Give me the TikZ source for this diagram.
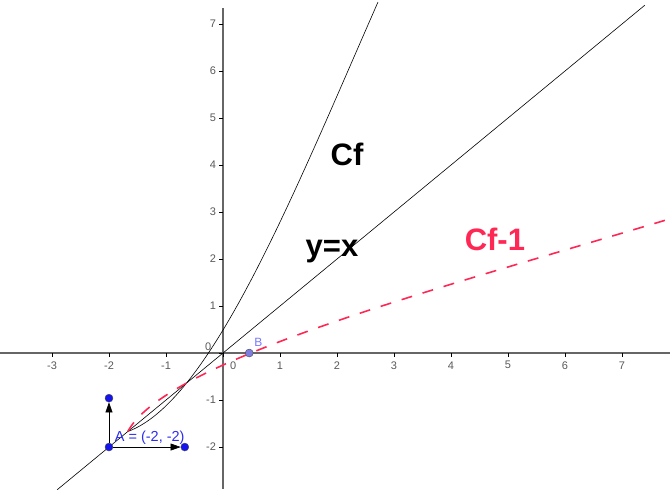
\documentclass[tikz,border=0pt]{standalone}
\usepackage{fontspec}
\setmainfont{Liberation Sans}
\usetikzlibrary{arrows.meta}
\definecolor{cfred}{RGB}{255,40,85}
\definecolor{ptblue}{RGB}{20,20,235}
\definecolor{bblue}{RGB}{125,125,225}
\definecolor{lblblue}{RGB}{45,45,240}
\definecolor{blbl}{RGB}{120,120,255}
\begin{document}
\begin{tikzpicture}[x=57pt,y=47pt,
  declare function={f(\t)=\t+(0.458-0.05*\t)*(\t+0.64)*(\t+1.67);},
  axisline/.style={draw=black!60,line width=1.3pt},
  tickmark/.style={draw=black,line width=0.6pt},
  ticklbl/.style={text=black!65,font=\fontsize{11}{11}\selectfont,inner sep=0pt},
  curve/.style={draw=black,line width=0.6pt},
  bigtxt/.style={font=\fontsize{31}{31}\selectfont\bfseries,anchor=base,inner sep=0pt},
  pt/.style={circle,fill=ptblue,draw=black!70,line width=0.4pt,inner sep=0pt,minimum size=8pt},
  vec/.style={draw=black,line width=0.6pt,-{Triangle[length=10pt,width=7pt]}}]
\useasboundingbox (-3.912,-2.894) rectangle (7.842,7.511);
% axes
\coordinate (xl) at (-3.912,0);
\coordinate (xr) at (7.842,0);
\coordinate (yb) at (0,-2.894);
\coordinate (yt) at (0,7.34);
\draw[axisline] (xl) -- (xr);
\draw[axisline] (yb) -- (yt);
\foreach \i in {-3,...,7} {
  \coordinate (xt\i) at (\i,0);
  \coordinate (xs\i) at (\i,-0.09);
  \draw[tickmark] (xt\i) -- (xs\i);
}
\foreach \i in {-2,...,7} {
  \coordinate (yt\i) at (0,\i);
  \coordinate (ys\i) at (-0.07,\i);
  \draw[tickmark] (yt\i) -- (ys\i);
}
\foreach \i in {-3,-2,-1,1,2,3,4,5,6,7}
  \node[ticklbl] (xlab\i) at (\i,-0.26) {\i};
\foreach \i in {-2,-1,1,2,3,4,5,6,7}
  \node[ticklbl,anchor=east] (ylab\i) at (-0.12,\i) {\i};
\node[ticklbl] (ylab0) at (-0.26,0.13) {0};
\node[ticklbl] (xlab0) at (0.18,-0.26) {0};
% y = x
\coordinate (d1) at (-2.91,-2.91);
\coordinate (d2) at (7.40,7.40);
\draw[curve] (d1) -- (d2);
% Cf
\draw[curve] plot[domain=-1.67:2.72,samples=120,smooth] (\x,{f(\x)});
% Cf-1
\draw[draw=cfred,line width=1.6pt,dash pattern=on 11pt off 11pt]
  plot[domain=-1.67:2.83,samples=120,smooth] ({f(\x)},\x);
% labels
\node[bigtxt] (cf) at (2.175,4.0) {Cf};
\node[bigtxt] (yx) at (1.912,2.06) {y=x};
\node[bigtxt,text=cfred] (cfi) at (4.77,2.19) {Cf-1};
% unit vectors at A
\node[pt] (A) at (-2,-2) {};
\node[pt] (Aj) at (-2,-0.96) {};
\node[pt] (Ai) at (-0.67,-2) {};
\draw[vec] (A) -- (Aj);
\draw[vec] (A) -- (Ai);
\node[text=lblblue,font=\fontsize{14.5}{14.5}\selectfont,anchor=west,inner sep=0pt] (Alab) at (-1.9,-1.81) {A = (-2, -2)};
% point B
\node[pt,fill=bblue] (B) at (0.46,0) {};
\node[text=blbl,font=\fontsize{12}{12}\selectfont,inner sep=0pt] (Blab) at (0.62,0.22) {B};
\end{tikzpicture}
\end{document}
